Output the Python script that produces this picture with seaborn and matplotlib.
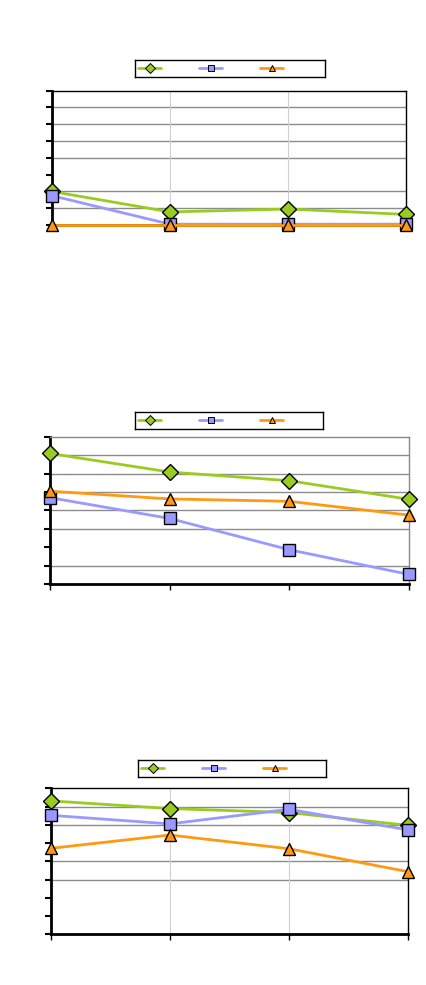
import matplotlib
matplotlib.use("Agg")
import matplotlib.pyplot as plt
from matplotlib.lines import Line2D
import seaborn as sns
import pandas as pd

sns.set_theme(style="white")
plt.rcParams['font.family'] = ['DejaVu Sans']

categories = [0, 1, 2, 3]

p1_green = [2.0, 0.78, 0.95, 0.63]
p1_blue = [1.75, 0.05, 0.05, 0.05]
p1_orange = [0.0, 0.0, 0.0, 0.0]

p2_green = [7.09, 6.08, 5.61, 4.60]
p2_blue = [4.69, 3.56, 1.86, 0.52]
p2_orange = [5.04, 4.62, 4.49, 3.74]

p3_green = [7.31, 6.89, 6.67, 5.97]
p3_blue = [6.52, 6.05, 6.85, 5.72]
p3_orange = [4.71, 5.44, 4.69, 3.43]

y_ticks = [0, 1, 2, 3, 4, 5, 6, 7, 8]
p1_grid = [1, 2, 4, 5, 6, 7]
p2_grid = [1, 3, 4, 5, 6, 7]
p3_grid = [3, 4, 6, 7]

GREEN = "#99CC22"
BLUE = "#9999FF"
ORANGE = "#FF9911"

W, H = 426, 985
fig = plt.figure(figsize=(W / 100, H / 100), dpi=100)


def box(l, t, r, b):
    return [l / W, 1 - b / H, (r - l) / W, (b - t) / H]


panels = [
    dict(rect=box(51.7, 90.7, 406, 225), data=(p1_green, p1_blue, p1_orange),
         grid=p1_grid, vgrid=True, frame="black", leg=(135, 60, 325, 77)),
    dict(rect=box(50, 436.7, 409, 584), data=(p2_green, p2_blue, p2_orange),
         grid=p2_grid, vgrid=False, frame="#888888", leg=(135, 412, 323, 429)),
    dict(rect=box(50.7, 788.3, 408, 934.3), data=(p3_green, p3_blue, p3_orange),
         grid=p3_grid, vgrid=True, frame="black", leg=(138, 760, 326, 777)),
]

styles = [(GREEN, "D", 8), (BLUE, "s", 8), (ORANGE, "^", 9)]

for p in panels:
    ax = fig.add_axes(p["rect"])
    ax.set_facecolor("white")
    for gy in p["grid"]:
        ax.axhline(gy, color="#8c8c8c", lw=1.0, zorder=0)
    if p["vgrid"]:
        for gx in [1, 2]:
            ax.axvline(gx, color="#d0d0d0", lw=0.8, zorder=0)
    for vals, (c, m, ms) in zip(p["data"], styles):
        df = pd.DataFrame({"x": categories, "y": vals})
        sns.lineplot(data=df, x="x", y="y", ax=ax, color=c, lw=2.0, marker=m,
                     markersize=ms, markeredgecolor="black", markeredgewidth=1.0,
                     markerfacecolor=c, clip_on=False, zorder=3)
    ax.set_xlim(0, 3)
    ax.set_ylim(0, 8)
    ax.set_yticks(y_ticks)
    ax.set_xticks(categories)
    ax.set_yticklabels([])
    ax.set_xticklabels([])
    ax.set_xlabel("")
    ax.set_ylabel("")
    ax.tick_params(axis="y", direction="out", length=4, width=1.5, color="black", left=True)
    ax.tick_params(axis="x", direction="out", length=4, width=1.0, color="black", bottom=True)
    for s in ["left", "bottom"]:
        ax.spines[s].set_color("black")
        ax.spines[s].set_linewidth(2.0)
    for s in ["top", "right"]:
        ax.spines[s].set_color(p["frame"])
        ax.spines[s].set_linewidth(1.0)

    # legend
    l, t, r, b = p["leg"]
    lax = fig.add_axes(box(l, t, r, b))
    lax.set_xlim(l, r)
    lax.set_ylim(b, t)
    lax.set_xticks([])
    lax.set_yticks([])
    for s in lax.spines.values():
        s.set_color("black")
        s.set_linewidth(1.0)
    handles = [Line2D([0], [0], color=c, lw=2.0, marker=m, markersize=5,
                      markerfacecolor=c, markeredgecolor="black", markeredgewidth=0.7)
               for c, m, ms in styles]
    leg = lax.legend(handles, ["", "", ""], ncol=3, loc="center left",
                     bbox_to_anchor=(0.0, 0.5), frameon=False, handlelength=1.5,
                     handletextpad=0.0, columnspacing=2.5, borderaxespad=0.2,
                     borderpad=0.0)

fig.savefig("out.png", dpi=100)
